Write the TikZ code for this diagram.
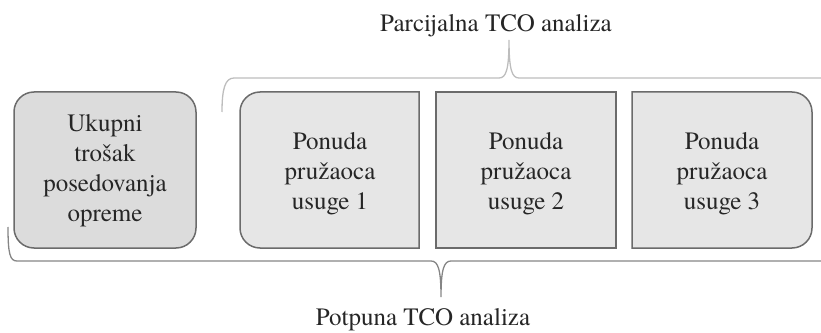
\documentclass[tikz,border=0pt]{standalone}
\usepackage{fontspec}
\IfFontExistsTF{texgyretermes-regular.otf}
  {\setmainfont{texgyretermes-regular.otf}}
  {\setmainfont{Liberation Serif}}
\definecolor{boxline}{HTML}{6B6B6B}
\definecolor{darkfill}{HTML}{DCDCDC}
\definecolor{lightfill}{HTML}{E6E6E6}
\definecolor{upbrace}{HTML}{BDBDBD}
\definecolor{lowbrace}{HTML}{858585}
\begin{document}
\begin{tikzpicture}[x=1pt,y=1pt,
  boxstyle/.style={draw=boxline,line width=1.5pt},
  boxtext/.style={inner sep=0pt,align=center,text=black!85,font=\rmfamily\fontsize{25}{30}\selectfont},
  labeltext/.style={inner sep=0pt,anchor=base,text=black!85,font=\rmfamily\fontsize{25}{30}\selectfont},
  bracestyle/.style={line width=1.3pt}]
\useasboundingbox (0,0) rectangle (821,332);
% boxes
\draw[boxstyle,fill=darkfill,rounded corners=20pt] (14,84) rectangle (196,240);
\draw[boxstyle,fill=lightfill] (419,240) -- (260,240) arc[start angle=90,end angle=180,radius=20]
  -- (240,104) arc[start angle=180,end angle=270,radius=20] -- (419,84) -- cycle;
\draw[boxstyle,fill=lightfill] (436,84) rectangle (616,240);
\draw[boxstyle,fill=lightfill] (632,240) -- (792,240) arc[start angle=90,end angle=0,radius=20]
  -- (812,104) arc[start angle=0,end angle=-90,radius=20] -- (632,84) -- cycle;
% texts
\node[boxtext] (t0) at (105,161) {Ukupni\\trošak\\posedovanja\\opreme};
\node[boxtext] (t1) at (330,158) {Ponuda\\pružaoca\\usuge 1};
\node[boxtext] (t2) at (526,158) {Ponuda\\pružaoca\\usuge 2};
\node[boxtext] (t3) at (722,158) {Ponuda\\pružaoca\\usuge 3};
\node[labeltext] (lp) at (496,300) {Parcijalna TCO analiza};
\node[labeltext] (lf) at (423,7) {Potpuna TCO analiza};
% braces
\draw[bracestyle,draw=upbrace] (222,220) .. controls (222,243) and (225,254) .. (234,254)
  -- (499,254) .. controls (506,254) and (509,262) .. (509,292)
  .. controls (509,262) and (512,254) .. (519,254) -- (821,254);
\draw[bracestyle,draw=lowbrace] (8,105) .. controls (8,78) and (10,71) .. (17,71)
  -- (431,71) .. controls (438,71) and (441,63) .. (441,35)
  .. controls (441,63) and (444,71) .. (451,71) -- (821,71);
\end{tikzpicture}
\end{document}
